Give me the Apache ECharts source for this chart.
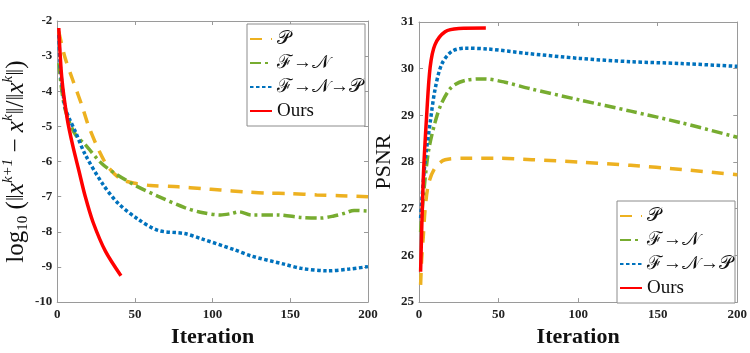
<!DOCTYPE html>
<html>
<head>
<meta charset="utf-8">
<title>convergence</title>
<script src="https://cdn.jsdelivr.net/npm/echarts@6/dist/echarts.min.js"></script>
<style>
  html, body { margin: 0; padding: 0; background: #fff; }
  #main { width: 750px; height: 353px; }
</style>
</head>
<body>
<div id="main"></div>
<script>
// legend names
var names = ['𝒫', 'ℱ→𝒩', 'ℱ→𝒩→𝒫', 'Ours'];

// left plot: log10 relative change
var resIterP = [1, 5, 10, 16, 20, 27, 33, 41, 50, 60, 78, 93, 105, 120, 135, 150, 167, 182, 200];
var resP = [-2.3, -3.04, -3.68, -4.42, -4.97, -5.7, -6.17, -6.5, -6.62, -6.68, -6.72, -6.77, -6.81, -6.86, -6.9, -6.91, -6.95, -6.97, -7.0];
var resIterFN = [1, 3, 5, 8, 12, 18, 29, 39, 52, 65, 82, 93, 105, 112, 117, 125, 142, 157, 169, 178, 185, 191, 200];
var resFN = [-3.2, -4.0, -4.5, -4.9, -5.25, -5.52, -6.07, -6.39, -6.72, -6.99, -7.31, -7.45, -7.52, -7.48, -7.43, -7.52, -7.52, -7.59, -7.61, -7.55, -7.47, -7.39, -7.41];
var resIterFNP = [1, 2, 4, 5.3, 8, 11.7, 18, 29, 39, 52, 65, 82, 93, 114, 125, 146, 157, 174, 188, 200];
var resFNP = [-2.4, -3.3, -4.15, -4.5, -4.8, -5.15, -5.8, -6.62, -7.18, -7.64, -7.96, -8.05, -8.2, -8.51, -8.69, -8.92, -9.04, -9.11, -9.06, -8.99];
var resIterOurs = [1, 3, 6.5, 10, 14, 18, 23, 31, 41];
var resOurs = [-2.2, -3.65, -4.8, -5.55, -6.27, -6.99, -7.72, -8.55, -9.25];

// right plot: PSNR
var psnrIterP = [1, 1.7, 2.7, 3.8, 5.9, 10, 16.4, 29, 50, 71, 101, 133, 165, 200];
var psnrP = [25.37, 25.93, 26.41, 26.97, 27.52, 27.87, 28.05, 28.08, 28.08, 28.05, 28.0, 27.93, 27.84, 27.73];
var psnrIterFN = [1, 2.7, 5.9, 10, 14.2, 20.6, 29, 41.6, 54, 70, 101, 133, 165, 200];
var psnrFN = [26.5, 27.25, 28.22, 28.84, 29.26, 29.61, 29.75, 29.78, 29.71, 29.57, 29.33, 29.09, 28.84, 28.53];
var psnrIterFNP = [1, 3.8, 7, 10, 14.2, 20.6, 29, 44, 67, 101, 133, 165, 200];
var psnrFNP = [26.8, 28.01, 28.84, 29.54, 30.09, 30.37, 30.44, 30.42, 30.33, 30.22, 30.15, 30.11, 30.05];
var psnrIterOurs = [1, 2.7, 4.9, 7, 10, 16.4, 25, 42];
var psnrOurs = [25.65, 27.66, 29.05, 30.03, 30.51, 30.79, 30.86, 30.87];

var colors = ['#EDB120', '#77AC30', '#0072BD', '#FF0000'];
var dashes = [[12, 9], [11, 4, 3, 4], [3.5, 2.5], 'solid'];
var serif = 'Liberation Serif, Times New Roman, DejaVu Serif, serif';
var axisGray = '#9a9a9a';

function pairs(xs, ys) {
    var out = [];
    for (var i = 0; i < xs.length; i++) {
        out.push([xs[i], ys[i]]);
    }
    return out;
}

function line(k, xs, ys, idx) {
    return {
        name: names[k],
        type: 'line',
        xAxisIndex: idx,
        yAxisIndex: idx,
        data: pairs(xs, ys),
        symbol: 'none',
        smooth: 0.3,
        lineStyle: {color: colors[k], width: 3.5, type: dashes[k], cap: 'butt'},
        itemStyle: {color: colors[k]},
        animation: false
    };
}

function xAxis(grid, pos, name) {
    return {
        type: 'value', gridIndex: grid, position: pos,
        min: 0, max: 200, interval: 50,
        name: name, nameLocation: 'middle', nameGap: 23,
        nameTextStyle: {fontFamily: serif, fontWeight: 'bold', fontSize: 22, color: '#111'},
        axisLine: {show: true, onZero: false, lineStyle: {color: axisGray, width: 1}},
        axisTick: {show: true, inside: true, length: 4, lineStyle: {color: axisGray}},
        axisLabel: {show: pos == 'bottom', margin: 6, fontFamily: serif, fontWeight: 'bold', fontSize: 13, color: '#222'},
        splitLine: {show: false}
    };
}

function yAxis(grid, pos, min, max, name, nameOpts) {
    var a = {
        type: 'value', gridIndex: grid, position: pos,
        min: min, max: max, interval: 1,
        axisLine: {show: true, onZero: false, lineStyle: {color: axisGray, width: 1}},
        axisTick: {show: true, inside: true, length: 4, lineStyle: {color: axisGray}},
        axisLabel: {show: pos == 'left', margin: 5, fontFamily: serif, fontWeight: 'bold', fontSize: 13, color: '#222'},
        splitLine: {show: false}
    };
    if (name) {
        a.name = name;
        a.nameLocation = 'middle';
        a.nameRotate = 90;
        a.nameGap = nameOpts.gap;
        a.nameTextStyle = nameOpts.style;
    }
    return a;
}

function legend(left, top) {
    return {
        data: names,
        orient: 'vertical',
        left: left, top: top,
        backgroundColor: '#fff',
        borderColor: '#8c8c8c', borderWidth: 1, borderRadius: 0,
        padding: [5, 2, 5, 2],
        itemWidth: 22, itemHeight: 12, itemGap: 4,
        itemStyle: {opacity: 0},
        selectedMode: false,
        textStyle: {fontFamily: serif, fontSize: 19, lineHeight: 20, color: '#111'}
    };
}

var logName = '{t|log}{sub|10}{t| (‖}{i|x}{sup|k+1}{t| − }{i|x}{sup|k}{t|‖/‖}{i|x}{sup|k}{t|‖)}';
var logStyle = {
    color: '#111',
    rich: {
        t: {fontFamily: serif, fontSize: 25, lineHeight: 30, verticalAlign: 'middle'},
        i: {fontFamily: serif, fontStyle: 'italic', fontSize: 25, lineHeight: 30, verticalAlign: 'middle'},
        sup: {fontFamily: serif, fontStyle: 'italic', fontSize: 15, lineHeight: 30, verticalAlign: 'top'},
        sub: {fontFamily: serif, fontSize: 15, lineHeight: 30, verticalAlign: 'bottom'}
    }
};

var chart = echarts.init(document.getElementById('main'), null, {renderer: 'canvas'});
chart.setOption({
    backgroundColor: '#fff',
    animation: false,
    grid: [
        {left: 55, top: 21, width: 313, height: 290},
        {left: 419, top: 22, width: 319, height: 286}
    ],
    legend: [legend(247, 24), legend(617, 201)],
    xAxis: [
        xAxis(0, 'bottom', 'Iteration'),
        xAxis(0, 'top', ''),
        xAxis(1, 'bottom', 'Iteration'),
        xAxis(1, 'top', '')
    ],
    yAxis: [
        yAxis(0, 'left', -10, -2, logName, {gap: 24, style: logStyle}),
        yAxis(0, 'right', -10, -2),
        yAxis(1, 'left', 25, 31, 'PSNR', {gap: 24, style: {fontFamily: serif, fontSize: 22, color: '#111'}}),
        yAxis(1, 'right', 25, 31)
    ],
    series: [
        line(0, resIterP, resP, 0),
        line(1, resIterFN, resFN, 0),
        line(2, resIterFNP, resFNP, 0),
        line(3, resIterOurs, resOurs, 0),
        line(0, psnrIterP, psnrP, 2),
        line(1, psnrIterFN, psnrFN, 2),
        line(2, psnrIterFNP, psnrFNP, 2),
        line(3, psnrIterOurs, psnrOurs, 2)
    ]
});
</script>
</body>
</html>
